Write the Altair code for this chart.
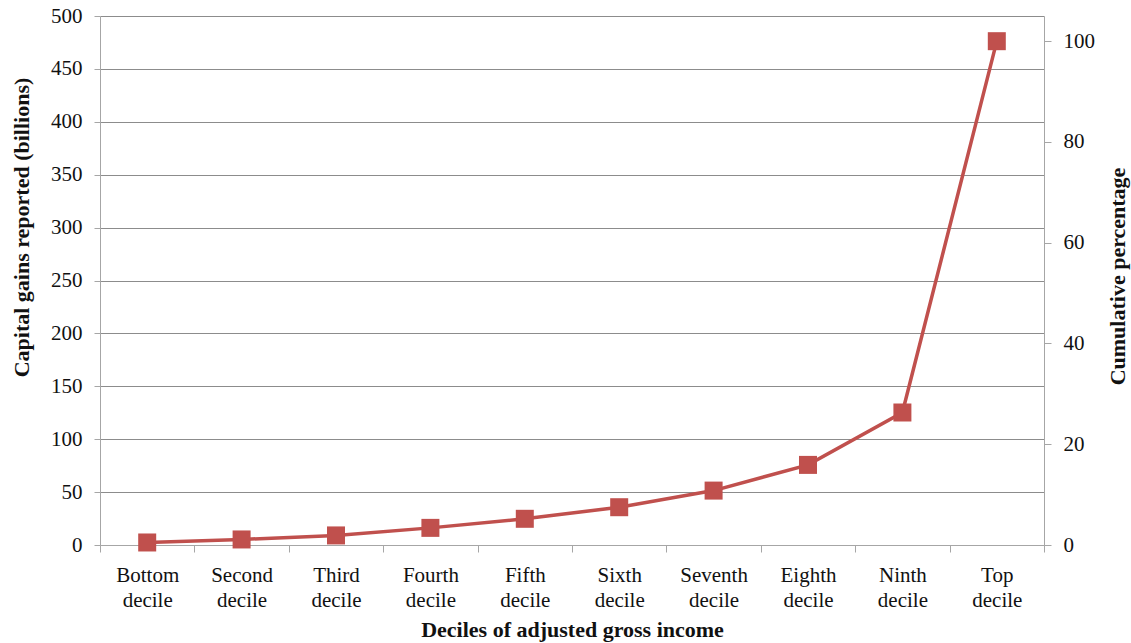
import altair as alt
import pandas as pd

# Income deciles and the cumulative share of capital gains reported
deciles = [
    "Bottom decile", "Second decile", "Third decile", "Fourth decile",
    "Fifth decile", "Sixth decile", "Seventh decile", "Eighth decile",
    "Ninth decile", "Top decile",
]
cumulative_pct = [0.5, 1.1, 1.9, 3.4, 5.2, 7.5, 10.8, 15.9, 26.3, 100.0]

left_ticks = [0, 50, 100, 150, 200, 250, 300, 350, 400, 450, 500]
right_ticks = [0, 20, 40, 60, 80, 100]

df = pd.DataFrame({"decile": deciles, "pct": cumulative_pct})

FONT = "Liberation Serif"
RED = "#C0504D"
GRID = "#8c8c8c"
AXIS = "#a6a6a6"

text_style = dict(
    labelFont=FONT,
    labelFontSize=21,
    labelColor="#111111",
    titleFont=FONT,
    titleFontSize=22,
    titleFontWeight="bold",
    titleColor="#111111",
)

x_enc = alt.X(
    "decile:N",
    sort=deciles,
    title="Deciles of adjusted gross income",
    scale=alt.Scale(type="band", paddingInner=0, paddingOuter=0),
    axis=alt.Axis(
        labelAngle=0,
        labelExpr="split(datum.label, ' ')",
        labelLineHeight=25,
        labelPadding=12,
        tickBand="extent",
        tickSize=7,
        grid=False,
        titleX=472,
        titleY=91,
        titleAlign="center",
        titleBaseline="alphabetic",
        **text_style,
    ),
)

# Left axis (billions) carries the horizontal gridlines
left = alt.Chart(df).mark_line(opacity=0).encode(
    x=x_enc,
    y=alt.Y(
        "pct:Q",
        scale=alt.Scale(domain=[0, 500], nice=False, zero=True),
        axis=alt.Axis(
            orient="left",
            values=left_ticks,
            grid=True,
            tickSize=6,
            labelPadding=12,
            title="Capital gains reported (billions)",
            titleAngle=270,
            titleAlign="center",
            titleBaseline="alphabetic",
            titleX=-72,
            titleY=211,
            **text_style,
        ),
    ),
)

# Cumulative percentage line with square markers on the right axis
right = alt.Chart(df).mark_line(
    color=RED,
    strokeWidth=3.5,
    point=alt.OverlayMarkDef(shape="square", size=324, filled=True, color=RED, opacity=1),
).encode(
    x=x_enc,
    y=alt.Y(
        "pct:Q",
        scale=alt.Scale(domain=[0, 105], nice=False, zero=True),
        axis=alt.Axis(
            orient="right",
            values=right_ticks,
            grid=False,
            tickSize=7,
            labelPadding=12,
            title="Cumulative percentage",
            titleAngle=270,
            titleAlign="center",
            titleBaseline="alphabetic",
            titleX=80,
            titleY=260,
            **text_style,
        ),
    ),
)

chart = (
    alt.layer(left, right)
    .resolve_scale(y="independent")
    .properties(
        width=944,
        height=529,
        autosize=alt.AutoSizeParams(type="none"),
        padding={"left": 100, "top": 16, "right": 87, "bottom": 98},
        background="white",
    )
    .configure(font=FONT)
    .configure_view(strokeWidth=0)
    .configure_axis(
        domainColor=AXIS,
        domainWidth=1,
        tickColor=AXIS,
        tickWidth=1,
        gridColor=GRID,
        gridWidth=1,
    )
)

chart.save("out.html", embed_options={"renderer": "svg", "actions": False})
